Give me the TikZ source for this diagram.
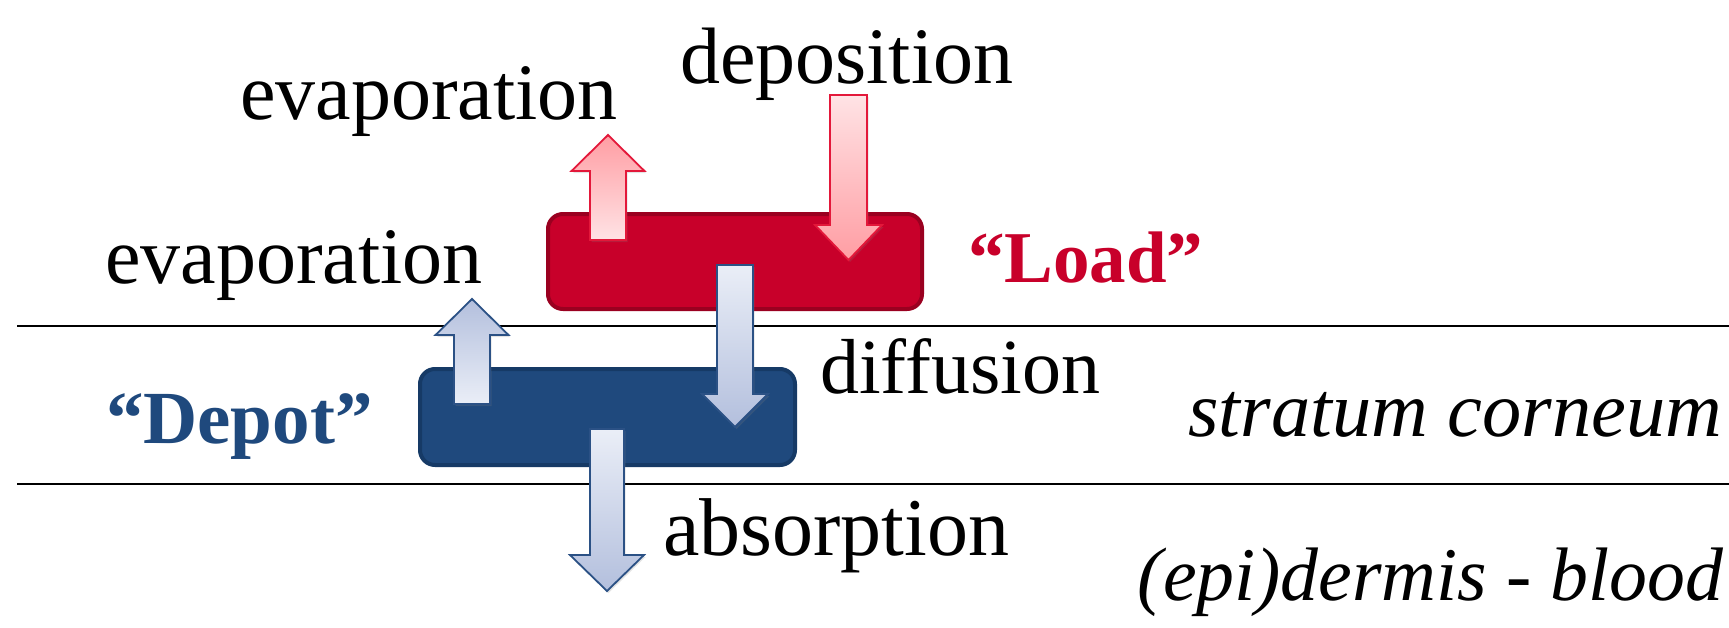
\documentclass[tikz,border=0pt]{standalone}
\usepackage{fontspec}
\setmainfont{Liberation Serif}
\usetikzlibrary{shadows}
\definecolor{loadred}{HTML}{C8002A}
\definecolor{loadborder}{HTML}{9A0020}
\definecolor{depotblue}{HTML}{1F497D}
\definecolor{depotborder}{HTML}{163A66}
\definecolor{redlight}{HTML}{FFE3E5}
\definecolor{reddark}{HTML}{FF9DA3}
\definecolor{redline}{HTML}{E3183A}
\definecolor{bluelight}{HTML}{EAEEF7}
\definecolor{bluedark}{HTML}{B3BFDD}
\definecolor{blueline}{HTML}{2B5185}
\newcommand{\BlkArrow}[7]{% style, cx, half shaft, half head, tail y, head base y, tip y
  \path[#1] ({#2-#3},#5) -- ({#2-#3},#6) -- ({#2-#4},#6) -- (#2,#7) -- ({#2+#4},#6) -- ({#2+#3},#6) -- ({#2+#3},#5) -- cycle;}
\begin{document}
\begin{tikzpicture}[x=1pt,y=-1pt,
  lbl/.style={inner sep=0pt, outer sep=0pt, font=\fontsize{80}{96}\selectfont},
  boldlbl/.style={inner sep=0pt, outer sep=0pt, font=\fontsize{73}{88}\selectfont\bfseries},
  layerline/.style={draw=black, line width=1.8pt},
  redbox/.style={draw=loadborder, fill=loadred, line width=4pt, rounded corners=15pt, inner sep=0pt, outer sep=0pt},
  bluebox/.style={draw=depotborder, fill=depotblue, line width=4pt, rounded corners=15pt, inner sep=0pt, outer sep=0pt},
  arrshadow/.style={drop shadow={opacity=0.22, shadow xshift=1.5pt, shadow yshift=-2pt}},
  redup/.style={arrshadow, draw=redline, line width=1.8pt, top color=reddark, bottom color=redlight, line join=miter},
  reddown/.style={arrshadow, draw=redline, line width=1.8pt, top color=redlight, bottom color=reddark, line join=miter},
  blueup/.style={arrshadow, draw=blueline, line width=1.8pt, top color=bluedark, bottom color=bluelight, line join=miter},
  bluedown/.style={arrshadow, draw=blueline, line width=1.8pt, top color=bluelight, bottom color=bluedark, line join=miter}
]
\useasboundingbox (0,0) rectangle (1729,627);

% layer boundaries
\coordinate (l1a) at (17,326);
\coordinate (l1b) at (1729,326);
\coordinate (l2a) at (17,484);
\coordinate (l2b) at (1729,484);
\draw[layerline] (l1a) -- (l1b);
\draw[layerline] (l2a) -- (l2b);

% boxes
\node[redbox, minimum width=374pt, minimum height=95pt] (load) at (735,261.5) {};
\node[bluebox, minimum width=375pt, minimum height=96pt] (depot) at (607.5,417) {};

% arrows
\BlkArrow{redup}{608}{18}{36.5}{240}{171}{135}
\BlkArrow{reddown}{848.5}{18.5}{33.5}{95}{225}{260}
\BlkArrow{blueup}{472}{18}{36.5}{404}{335}{299}
\BlkArrow{bluedown}{735}{18}{33}{265}{394}{427}
\BlkArrow{bluedown}{607}{17}{37}{429}{555}{591}

% labels
\node[lbl, anchor=base west] (evap1) at (240,119) {evaporation};
\node[lbl, anchor=base west] (depo) at (680,83) {deposition};
\node[lbl, anchor=base west] (evap2) at (105,283) {evaporation};
\node[boldlbl, anchor=base west, text=loadred] (loadlbl) at (968,282) {“Load”};
\node[lbl, anchor=base west, font=\fontsize{78}{94}\selectfont] (diff) at (820,393) {diffusion};
\node[boldlbl, anchor=base west, text=depotblue, font=\fontsize{75}{90}\selectfont\bfseries] (depotlbl) at (106,443) {“Depot”};
\node[lbl, anchor=base east, font=\fontsize{78.4}{94}\selectfont\itshape] (sc) at (1722,436) {stratum corneum};
\node[lbl, anchor=base west, font=\fontsize{82}{98}\selectfont] (abs) at (663,555) {absorption};
\node[lbl, anchor=base east, font=\fontsize{75.8}{91}\selectfont\itshape] (epi) at (1723,600) {(epi)dermis - blood};
\end{tikzpicture}
\end{document}
